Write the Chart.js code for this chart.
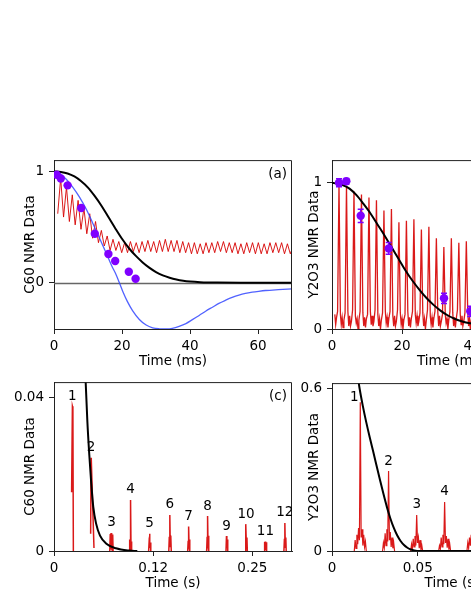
<!DOCTYPE html>
<html>
<head>
<meta charset="utf-8">
<script src="https://cdn.jsdelivr.net/npm/chart.js@4/dist/chart.umd.min.js"></script>
<style>
  html, body { margin: 0; padding: 0; background: #fff; overflow: hidden; width: 471px; height: 609px; position: relative; }
  canvas { position: absolute; }
</style>
</head>
<body>
<canvas id="chartA"></canvas>
<canvas id="chartB"></canvas>
<canvas id="chartC"></canvas>
<canvas id="chartD"></canvas>
<script>
// ---------- data: panel (a) C60, time in ms ----------
const aTicksX = [0, 20, 40, 60];
const aTicksY = [0, 1];
const aMarkers = [[0.8,0.97],[2.0,0.936],[4.0,0.875],[8.0,0.672],[12.0,0.44],[16.0,0.258],[18.0,0.195],[22.0,0.099],[24.0,0.035]];
const aFit = [[0,1.0],[2,0.995],[4,0.982],[6,0.955],[8,0.912],[10,0.855],[12,0.778],[14,0.69],[16,0.59],[18,0.49],[20,0.395],[22,0.312],[24,0.243],[26,0.185],[28,0.136],[30,0.096],[32,0.066],[34,0.045],[36,0.029],[38,0.018],[40,0.011],[43,0.005],[48,0.001],[55,0],[70,0]];
const aBlue = [[0,1.0],[1.8,0.98],[3.6,0.93],[5.5,0.86],[7.5,0.77],[9.5,0.66],[11.4,0.535],[13.4,0.40],[15.3,0.27],[17,0.15],[18.3,0.07],[20.2,-0.076],[21.6,-0.17],[23.1,-0.25],[25.1,-0.33],[27.1,-0.38],[29,-0.405],[31,-0.414],[33.3,-0.416],[34.8,-0.41],[36.8,-0.392],[38.8,-0.367],[40.7,-0.332],[42.7,-0.294],[44.6,-0.256],[46.6,-0.22],[48.5,-0.186],[50.5,-0.157],[52.4,-0.132],[54.4,-0.111],[56.3,-0.096],[58.3,-0.085],[60.2,-0.077],[62.2,-0.07],[66,-0.062],[70,-0.055]];
const aEcho = [[1.10,0.62],[1.96,0.94],[2.81,0.59],[3.67,0.86],[4.52,0.55],[5.38,0.79],[6.23,0.52],[7.09,0.74],[7.94,0.48],[8.80,0.67],[9.65,0.44],[10.51,0.62],[11.36,0.40],[12.22,0.55],[13.07,0.36],[13.93,0.47],[14.78,0.33],[15.64,0.42],[16.49,0.29],[17.35,0.39],[18.20,0.29],[19.06,0.37],[19.91,0.27],[20.77,0.36],[21.62,0.27],[22.48,0.37],[23.33,0.28],[24.19,0.36],[25.04,0.27],[25.90,0.37],[26.75,0.28],[27.61,0.38],[28.46,0.28],[29.32,0.37],[30.17,0.27],[31.03,0.38],[31.88,0.28],[32.74,0.39],[33.59,0.28],[34.45,0.38],[35.30,0.28],[36.16,0.38],[37.01,0.27],[37.87,0.37],[38.72,0.27],[39.58,0.36],[40.43,0.26],[41.29,0.36],[42.14,0.26],[43.00,0.35],[43.85,0.26],[44.71,0.36],[45.56,0.27],[46.42,0.36],[47.27,0.27],[48.13,0.37],[48.98,0.28],[49.84,0.37],[50.69,0.27],[51.55,0.36],[52.40,0.27],[53.26,0.36],[54.11,0.26],[54.97,0.35],[55.82,0.26],[56.68,0.36],[57.53,0.27],[58.39,0.36],[59.24,0.26],[60.10,0.36],[60.95,0.26],[61.81,0.35],[62.66,0.26],[63.52,0.36],[64.37,0.27],[65.23,0.36],[66.08,0.27],[66.94,0.36],[67.79,0.26],[68.65,0.35],[69.50,0.26],[70.36,0.33]];

// ---------- data: panel (b) Y2O3, time in ms ----------
const bTicksX = [0, 20, 40, 60];
const bTicksY = [0, 1];
const bMarkers = [[2.0,1.0],[4.1,1.01],[8.2,0.774],[16.2,0.551],[32.0,0.21],[39.5,0.121]];
const bErrors = [0.028, 0.02, 0.045, 0.04, 0.035, 0.035];
const bFit = [[0,1.0],[3,0.985],[5,0.96],[7,0.915],[9,0.855],[11,0.79],[13,0.715],[15,0.64],[17,0.56],[19,0.48],[21,0.40],[23,0.33],[25,0.268],[27,0.212],[29,0.165],[31,0.126],[33,0.094],[35,0.07],[37,0.053],[39,0.041],[42,0.029],[46,0.018],[52,0.008],[60,0.003],[68,0.001]];
const bEcho = [[0.8,0.10],[1.05,0.03],[1.3,0.08],
  [1.60,0.12],[2.00,0.99],[2.40,0.10],[2.65,0.03],[2.90,0.08],[3.15,0.01],[3.40,0.06],
  [3.74,0.11],[4.14,0.98],[4.54,0.12],[4.79,0.02],[5.04,0.09],[5.29,0.02],[5.54,0.05],
  [5.88,0.13],[6.28,0.94],[6.68,0.09],[6.93,0.04],[7.18,0.07],[7.43,0.00],[7.68,0.06],
  [8.02,0.12],[8.42,0.92],[8.82,0.11],[9.07,0.02],[9.32,0.08],[9.57,0.01],[9.82,0.07],
  [10.16,0.10],[10.56,0.90],[10.96,0.12],[11.21,0.03],[11.46,0.09],[11.71,0.02],[11.96,0.05],
  [12.30,0.13],[12.70,0.88],[13.10,0.10],[13.35,0.02],[13.60,0.07],[13.85,0.00],[14.10,0.06],
  [14.44,0.11],[14.84,0.81],[15.24,0.12],[15.49,0.04],[15.74,0.08],[15.99,0.01],[16.24,0.07],
  [16.58,0.12],[16.98,0.82],[17.38,0.09],[17.63,0.02],[17.88,0.09],[18.13,0.02],[18.38,0.05],
  [18.72,0.13],[19.12,0.73],[19.52,0.11],[19.77,0.03],[20.02,0.07],[20.27,0.00],[20.52,0.06],
  [20.86,0.10],[21.26,0.74],[21.66,0.12],[21.91,0.02],[22.16,0.08],[22.41,0.01],[22.66,0.07],
  [23.00,0.12],[23.40,0.75],[23.80,0.10],[24.05,0.04],[24.30,0.09],[24.55,0.02],[24.80,0.05],
  [25.14,0.11],[25.54,0.68],[25.94,0.11],[26.19,0.02],[26.44,0.07],[26.69,0.00],[26.94,0.06],
  [27.28,0.13],[27.68,0.70],[28.08,0.09],[28.33,0.03],[28.58,0.08],[28.83,0.01],[29.08,0.07],
  [29.42,0.12],[29.82,0.62],[30.22,0.12],[30.47,0.02],[30.72,0.09],[30.97,0.02],[31.22,0.05],
  [31.56,0.10],[31.96,0.56],[32.36,0.10],[32.61,0.04],[32.86,0.07],[33.11,0.00],[33.36,0.06],
  [33.70,0.12],[34.10,0.62],[34.50,0.11],[34.75,0.02],[35.00,0.08],[35.25,0.01],[35.50,0.07],
  [35.84,0.13],[36.24,0.59],[36.64,0.10],[36.89,0.03],[37.14,0.09],[37.39,0.02],[37.64,0.05],
  [37.98,0.11],[38.38,0.60],[38.78,0.12],[39.03,0.02],[39.28,0.07],[39.53,0.00],[39.78,0.06],
  [40.12,0.12],[40.52,0.58],[40.92,0.10],[41.17,0.03],[41.42,0.08]];

// ---------- data: panel (c) C60 long time, time in s ----------
const cTicksX = [0, 0.125, 0.25];
const cTickLabelsX = ['0', '0.12', '0.25'];
const cTicksY = [0, 0.04];
const cPeakNames = ['1','2','3','4','5','6','7','8','9','10','11','12'];
const cPeakT = [0.0232,0.0467,0.0724,0.0965,0.1204,0.1460,0.1697,0.1936,0.2174,0.2420,0.2665,0.2910];
const cPeakV = [0.0377,0.0243,0.0047,0.0133,0.0045,0.0094,0.0064,0.0091,0.0039,0.0070,0.0025,0.0073];
const cFit = [[0.036,0.07],[0.0395,0.046],[0.042,0.034],[0.0445,0.025],[0.047,0.0175],[0.0495,0.0115],[0.053,0.0072],[0.058,0.004],[0.066,0.0019],[0.078,0.0007],[0.095,0.0001],[0.105,0]];
const cEcho = [
  [0.0222,0.0153],[0.0232,0.0377],[0.0238,0.0372],[0.0244,0],null,
  [0.0462,0.0045],[0.0467,0.0243],[0.0470,0.0238],[0.0504,0.0008],null,
  [0.0703,0],[0.0709,0.0044],[0.0714,0.0004],[0.0719,0.0047],[0.0724,0.0003],[0.0729,0.0046],[0.0734,0.0002],[0.0740,0.0043],[0.0745,0],null,
  [0.0948,0],[0.0954,0.0030],[0.0959,0.0004],[0.0965,0.0133],[0.0971,0.0004],[0.0976,0.0025],[0.0981,0],null,
  [0.1193,0],[0.1198,0.0020],[0.1204,0.0045],[0.1210,0.0008],[0.1215,0.0022],[0.1220,0],null,
  [0.1447,0],[0.1453,0.0035],[0.1460,0.0094],[0.1466,0.0012],[0.1472,0.0040],[0.1478,0],null,
  [0.1685,0],[0.1691,0.0025],[0.1697,0.0064],[0.1703,0.0010],[0.1709,0.0030],[0.1714,0],null,
  [0.1924,0],[0.1930,0.0035],[0.1936,0.0091],[0.1942,0.0012],[0.1948,0.0040],[0.1953,0],null,
  [0.2168,0],[0.2174,0.0039],[0.2179,0.0008],[0.2185,0.0030],[0.2190,0],null,
  [0.2408,0],[0.2414,0.0030],[0.2420,0.0070],[0.2426,0.0010],[0.2432,0.0035],[0.2437,0],null,
  [0.2650,0],[0.2655,0.0024],[0.2660,0.0005],[0.2665,0.0025],[0.2670,0.0004],[0.2675,0.0023],[0.2680,0],null,
  [0.2898,0],[0.2904,0.0030],[0.2910,0.0073],[0.2916,0.0010],[0.2922,0.0035],[0.2927,0]];

// ---------- data: panel (d) Y2O3 long time, time in s ----------
const dTicksX = [0, 0.05, 0.1];
const dTicksY = [0, 0.6];
const dPeakNames = ['1','2','3','4'];
const dPeakT = [0.0165, 0.0330, 0.0494, 0.0657];
const dPeakV = [0.549, 0.295, 0.133, 0.181];
const dFit = [[0.0140,0.69],[0.0161,0.60],[0.018,0.535],[0.020,0.475],[0.022,0.42],[0.024,0.368],[0.026,0.315],[0.028,0.262],[0.030,0.211],[0.032,0.163],[0.034,0.121],[0.036,0.086],[0.038,0.058],[0.040,0.037],[0.042,0.022],[0.044,0.012],[0.046,0.0055],[0.048,0.002],[0.051,0],[0.14,0]];
const dEcho = [
  [0.0130,0],[0.0135,0.04],[0.0140,0.01],[0.0145,0.06],[0.0150,0.025],[0.0155,0.085],[0.0160,0.04],[0.0165,0.549],[0.0170,0.05],[0.0175,0.08],[0.0180,0.02],[0.0185,0.06],[0.0190,0.015],[0.0195,0.035],[0.0200,0],null,
  [0.0295,0],[0.0300,0.03],[0.0305,0.012],[0.0310,0.065],[0.0315,0.02],[0.0320,0.08],[0.0325,0.035],[0.0330,0.295],[0.0335,0.04],[0.0340,0.07],[0.0345,0.015],[0.0350,0.05],[0.0355,0.01],[0.0360,0.03],[0.0365,0],null,
  [0.0459,0],[0.0464,0.025],[0.0469,0.005],[0.0474,0.045],[0.0479,0.015],[0.0484,0.055],[0.0489,0.02],[0.0494,0.133],[0.0499,0.03],[0.0504,0.05],[0.0509,0.01],[0.0514,0.04],[0.0519,0.005],[0.0524,0.02],[0.0529,0],null,
  [0.0622,0],[0.0627,0.02],[0.0632,0.008],[0.0637,0.05],[0.0642,0.015],[0.0647,0.06],[0.0652,0.025],[0.0657,0.181],[0.0662,0.03],[0.0667,0.055],[0.0672,0.012],[0.0677,0.045],[0.0682,0.005],[0.0687,0.025],[0.0692,0],null,
  [0.0787,0],[0.0792,0.03],[0.0797,0.01],[0.0802,0.05],[0.0807,0.02],[0.0812,0.06],[0.0817,0.025],[0.0822,0.12],[0.0827,0.03],[0.0832,0.05],[0.0837,0.01],[0.0842,0.04],[0.0847,0.005],[0.0852,0.02],[0.0857,0]];

// ---------- styling ----------
const FONT = "'DejaVu Sans', sans-serif";
const RED = 'rgba(214,0,0,0.9)';
const PURPLE = '#7f00ff';
const AXIS = '#222';
Chart.defaults.font.family = FONT;
Chart.defaults.font.size = 13.5;
Chart.defaults.color = '#000';

const pts = arr => arr.map(p => p ? {x: p[0], y: p[1]} : {x: null, y: null});

// frame, zero line, error bars, panel letter and peak numbers
const decor = {
  id: 'decor',
  beforeDatasetsDraw(chart, args, opts) {
    if (!opts.zeroLine) return;
    const {ctx, chartArea: a, scales: {y}} = chart;
    const py = Math.round(y.getPixelForValue(0)) + 0.5;
    ctx.save();
    ctx.strokeStyle = '#666';
    ctx.lineWidth = 1.3;
    ctx.beginPath(); ctx.moveTo(a.left, py); ctx.lineTo(a.right, py); ctx.stroke();
    ctx.restore();
  },
  beforeDatasetDraw(chart, args, opts) {
    if (!opts.errors || args.index !== opts.errIndex) return;
    const {ctx, scales: {x, y}} = chart;
    ctx.save();
    ctx.strokeStyle = PURPLE;
    ctx.lineWidth = 1.5;
    opts.errPoints.forEach((p, i) => {
      const px = x.getPixelForValue(p[0]);
      const y1 = y.getPixelForValue(p[1] - opts.errors[i]);
      const y2 = y.getPixelForValue(p[1] + opts.errors[i]);
      ctx.beginPath();
      ctx.moveTo(px, y1); ctx.lineTo(px, y2);
      ctx.moveTo(px - 3, y1); ctx.lineTo(px + 3, y1);
      ctx.moveTo(px - 3, y2); ctx.lineTo(px + 3, y2);
      ctx.stroke();
    });
    ctx.restore();
  },
  afterDraw(chart, args, opts) {
    const {ctx, chartArea: a, scales: {x, y}} = chart;
    ctx.save();
    ctx.strokeStyle = AXIS;
    ctx.lineWidth = 1;
    ctx.beginPath();
    ctx.moveTo(a.left, a.top + 0.5); ctx.lineTo(a.right - 0.5, a.top + 0.5); ctx.lineTo(a.right - 0.5, a.bottom);
    ctx.stroke();
    ctx.fillStyle = '#000';
    ctx.font = '13.5px ' + FONT;
    if (opts.letter) {
      ctx.textAlign = 'right';
      ctx.textBaseline = 'middle';
      ctx.fillText(opts.letter, a.right - 5, a.top + 14);
    }
    if (opts.peakNames) {
      ctx.textAlign = 'center';
      ctx.textBaseline = 'middle';
      opts.peakNames.forEach((name, i) => {
        const shift = (opts.shift && opts.shift[name]) || [0, 0];
        const px = x.getPixelForValue(opts.peakT[i]) + shift[0];
        const py = y.getPixelForValue(opts.peakV[i]) - 10 + shift[1];
        ctx.fillText(name, px, py);
      });
    }
    ctx.restore();
  }
};
Chart.register(decor);

const AXW = 54, PADT = 8, AXH = 46, PADR = 6;

function makePanel(id, box, cfg) {
  const canvas = document.getElementById(id);
  const w = box.right - box.left, h = box.bottom - box.top;
  canvas.width = AXW + w + PADR;
  canvas.height = PADT + h + AXH;
  canvas.style.left = (box.left - AXW) + 'px';
  canvas.style.top = (box.top - PADT) + 'px';

  return new Chart(canvas, {
    type: 'line',
    data: { datasets: cfg.datasets },
    options: {
      responsive: false,
      animation: false,
      events: [],
      layout: { padding: { top: PADT, right: PADR, left: 0, bottom: 0 } },
      plugins: { legend: { display: false }, tooltip: { enabled: false }, decor: cfg.decor },
      scales: {
        x: {
          type: 'linear', min: cfg.xMin, max: cfg.xMax,
          afterFit: s => { s.height = AXH; },
          afterBuildTicks: s => { s.ticks = cfg.xTicks.map(v => ({ value: v })); },
          ticks: { autoSkip: false, maxRotation: 0, padding: 4,
                   callback: (v, i) => cfg.xLabels ? cfg.xLabels[i] : String(v) },
          grid: { drawOnChartArea: false, drawTicks: true, tickLength: 5, color: AXIS },
          border: { display: true, color: AXIS },
          title: { display: true, text: cfg.xTitle, padding: { top: 0, bottom: 5 } }
        },
        y: {
          type: 'linear', min: cfg.yMin, max: cfg.yMax,
          afterFit: s => { s.width = AXW; },
          afterBuildTicks: s => { s.ticks = cfg.yTicks.map(v => ({ value: v })); },
          ticks: { autoSkip: false, padding: 5, callback: v => String(v) },
          grid: { drawOnChartArea: false, drawTicks: true, tickLength: 5, color: AXIS },
          border: { display: true, color: AXIS },
          title: { display: true, text: cfg.yTitle, padding: { top: cfg.yTitlePad, bottom: 0 } }
        }
      }
    }
  });
}

const lineDs = (data, color, width, order, smooth) => ({
  data: pts(data), borderColor: color, borderWidth: width, pointRadius: 0,
  fill: false, order: order, spanGaps: false,
  tension: 0, cubicInterpolationMode: smooth ? 'monotone' : 'default'
});
const markerDs = (data, radius) => ({
  data: pts(data), showLine: false, pointRadius: radius, pointBorderWidth: 0,
  pointBackgroundColor: PURPLE, borderColor: PURPLE, order: 0
});

// (a)
makePanel('chartA', { left: 54, top: 155, right: 292, bottom: 329 }, {
  xMin: 0, xMax: 70, yMin: -0.416, yMax: 1.102,
  xTicks: aTicksX, yTicks: aTicksY,
  xTitle: 'Time (ms)', yTitle: 'C60 NMR Data', yTitlePad: 22,
  datasets: [
    markerDs(aMarkers, 4.2),
    lineDs(aFit, '#000', 2, 1, true),
    lineDs(aBlue, 'rgba(50,70,255,0.85)', 1.3, 2, true),
    lineDs(aEcho, RED, 1, 3, false)
  ],
  decor: { zeroLine: true, letter: '(a)' }
});

// (b)
makePanel('chartB', { left: 332, top: 155, right: 570, bottom: 329 }, {
  xMin: 0, xMax: 68, yMin: 0, yMax: 1.155,
  xTicks: bTicksX, yTicks: bTicksY,
  xTitle: 'Time (ms)', yTitle: 'Y2O3 NMR Data', yTitlePad: 28,
  datasets: [
    markerDs(bMarkers, 4.2),
    lineDs(bFit, '#000', 2, 1, true),
    lineDs(bEcho, RED, 1.3, 2, false)
  ],
  decor: { letter: '(b)', errors: bErrors, errPoints: bMarkers, errIndex: 0 }
});

// (c)
makePanel('chartC', { left: 54, top: 377, right: 292, bottom: 551 }, {
  xMin: 0, xMax: 0.3, yMin: 0, yMax: 0.044,
  xTicks: cTicksX, xLabels: cTickLabelsX, yTicks: cTicksY,
  xTitle: 'Time (s)', yTitle: 'C60 NMR Data', yTitlePad: 22,
  datasets: [
    lineDs(cFit, '#000', 2, 1, true),
    lineDs(cEcho, RED, 1.5, 2, false)
  ],
  decor: { letter: '(c)', peakNames: cPeakNames, peakT: cPeakT, peakV: cPeakV }
});

// (d)
makePanel('chartD', { left: 332, top: 378, right: 572, bottom: 551 }, {
  xMin: 0, xMax: 0.14, yMin: 0, yMax: 0.62,
  xTicks: dTicksX, yTicks: dTicksY,
  xTitle: 'Time (s)', yTitle: 'Y2O3 NMR Data', yTitlePad: 28,
  datasets: [
    lineDs(dFit, '#000', 2, 1, true),
    lineDs(dEcho, RED, 1.2, 2, false)
  ],
  decor: { letter: '(d)', peakNames: dPeakNames, peakT: dPeakT, peakV: dPeakV, shift: { '1': [-6, 5] } }
});
</script>
</body>
</html>
